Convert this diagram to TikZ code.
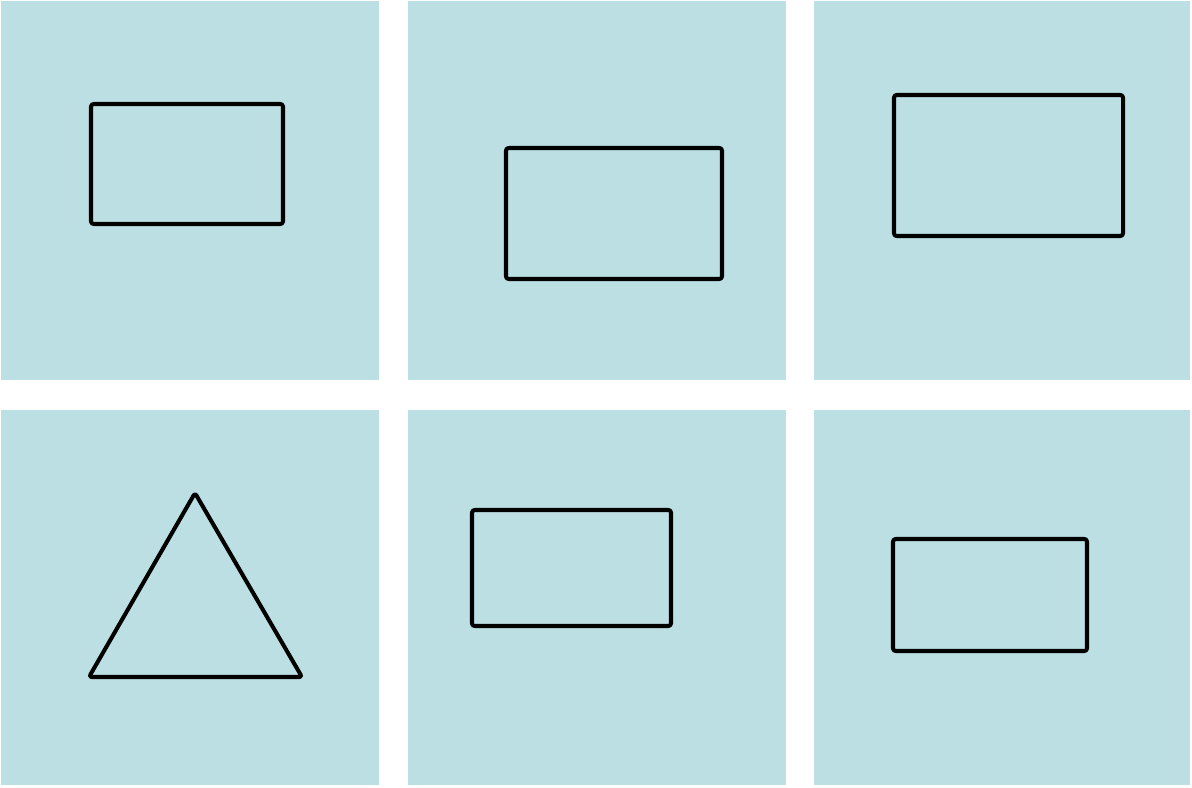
\documentclass[tikz,border=0pt]{standalone}
\usepackage{tikz}
\definecolor{panelBlue}{RGB}{187,223,227}
\tikzset{
  panel/.style={fill=panelBlue,draw=none},
  outline/.style={draw=black,line width=2.3pt,rounded corners=1.5pt,line join=round}
}

\begin{document}
\begin{tikzpicture}[x=0.02cm,y=-0.02cm]
  \useasboundingbox (0,0) rectangle (1192,787);

  % panels
  \fill[panel] (1,1) rectangle (379,380);
  \fill[panel] (408,1) rectangle (786,380);
  \fill[panel] (814,1) rectangle (1190,380);
  \fill[panel] (1,410) rectangle (379,785);
  \fill[panel] (408,410) rectangle (786,785);
  \fill[panel] (814,410) rectangle (1190,785);

  % shapes
  \draw[outline] (91,104) rectangle (283,224);
  \draw[outline] (506,148) rectangle (722,279);
  \draw[outline] (894,95) rectangle (1123,236);
  \draw[outline] (195,493) -- (302,677) -- (89,677) -- cycle;
  \draw[outline] (472,510) rectangle (671,626);
  \draw[outline] (893,539) rectangle (1087,651);
\end{tikzpicture}
\end{document}
